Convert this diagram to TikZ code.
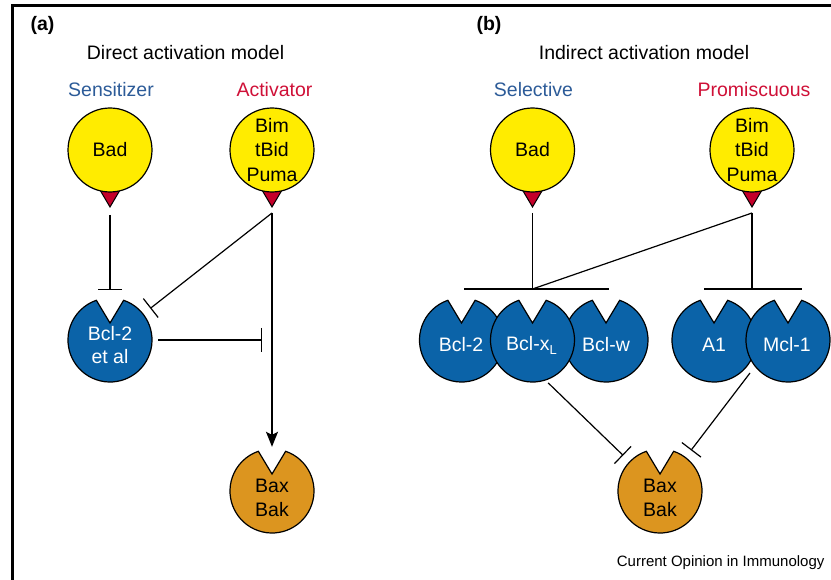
\documentclass[tikz,border=0pt]{standalone}
\usepackage{fontspec}
\setmainfont{Liberation Sans}
\usetikzlibrary{arrows.meta,calc}
\pgfdeclarelayer{background}
\pgfsetlayers{background,main}

\definecolor{ligandyellow}{HTML}{FFEC00}
\definecolor{tipred}{HTML}{C4002A}
\definecolor{pocketblue}{HTML}{0B63A8}
\definecolor{poreorange}{HTML}{DC951F}
\definecolor{headblue}{HTML}{2C5B98}
\definecolor{headred}{HTML}{CF1037}

\tikzset{
  outline/.style={draw=black, line width=1.2pt},
  ligand/.style={circle, outline, fill=ligandyellow, minimum size=84pt,
    inner sep=0pt, align=center, font=\fontsize{19.5}{24.5}\selectfont},
  pocket/.style={circle, minimum size=82pt, inner sep=0pt},
  protein/.style={align=center, font=\fontsize{19.5}{23.5}\selectfont},
  heading/.style={anchor=base, font=\fontsize{19.5}{23}\selectfont},
  panel/.style={anchor=base west, font=\bfseries\fontsize{19.5}{23}\selectfont},
  link/.style={line width=1.2pt},
  blocks/.style={link, -{Bar[width=24pt]}},
  activates/.style={link, -{Stealth[length=15pt, width=12pt, inset=3pt]}},
}

% pocket-shaped protein: a circle with a V-shaped notch cut into its top
\newcommand\pocketshape[3]{% name, centre, fill colour
  \node[pocket] (#1) at (#2) {};
  \draw[outline, fill=#3] ($(#1)+(71:42)$) arc[start angle=71, end angle=-251, radius=42]
    -- ($(#1)+(0,17)$) -- cycle;
}

% BH3-only protein: yellow ball with a red pointer underneath
\newcommand\ligandball[3]{% name, centre, text
  \node[ligand] (#1) at (#2) {#3};
  \coordinate (#1-tip) at ($(#1)+(0,-57)$);
  \coordinate (#1-fork) at ($(#1-tip)+(0,-6)$);
  \begin{pgfonlayer}{background}
    \draw[outline, line width=1pt, fill=tipred] ($(#1)+(-13,-35)$) -- (#1-tip) -- ($(#1)+(13,-35)$) -- cycle;
  \end{pgfonlayer}
}

\begin{document}
\begin{tikzpicture}[x=1pt, y=1pt]
\useasboundingbox (0,0) rectangle (831,-580);

% frame
\draw[line width=2.8pt] (12.2,-581) -- (12.2,-5.5) -- (832,-5.5);

% ---------- (a) direct activation ----------
\node[panel] (paneltaga) at (27,-31) {(a)};
\node[heading] (titlea) at (185.5,-60) {Direct activation model};
\node[heading, text=headblue] (senslabel) at (111,-97) {Sensitizer};
\node[heading, text=headred] (actlabel) at (274.5,-97) {Activator};

\ligandball{bada}{110,-150}{Bad}
\ligandball{acta}{272,-150}{Bim\\tBid\\Puma}

\pocketshape{bcl2a}{110,-340}{pocketblue}
\pocketshape{baxa}{272,-491}{poreorange}
\node[protein, text=white] (bcl2a-t) at (110,-345) {Bcl-2\\et al};
\node[protein] (baxa-t) at (272,-498) {Bax\\Bak};

\coordinate (acta-mid) at (acta-fork |- bcl2a);
\draw[blocks, shorten <=8pt, shorten >=9pt] (bada-tip) -- (bcl2a);
\draw[blocks, shorten >=10pt] (acta-fork) -- (bcl2a);
\draw[activates, shorten >=3pt] (acta-fork) -- (baxa);
\draw[blocks, shorten <=7pt, shorten >=10pt] (bcl2a) -- (acta-mid);

% ---------- (b) indirect activation ----------
\node[panel] (paneltagb) at (473,-31) {(b)};
\node[heading] (titleb) at (644,-60) {Indirect activation model};
\node[heading, text=headblue] (sellabel) at (533.5,-97) {Selective};
\node[heading, text=headred] (promlabel) at (754,-97) {Promiscuous};

\ligandball{badb}{532.5,-150}{Bad}
\ligandball{promb}{752,-150}{Bim\\tBid\\Puma}

\pocketshape{bcl2b}{461.5,-340}{pocketblue}
\pocketshape{bclw}{606,-340}{pocketblue}
\pocketshape{bclxl}{532.5,-340}{pocketblue}
\pocketshape{aone}{714,-340}{pocketblue}
\pocketshape{mclone}{788,-340}{pocketblue}
\pocketshape{baxb}{660,-491}{poreorange}

\node[protein, text=white] (bcl2b-t) at (461,-345) {Bcl-2};
\node[protein, text=white] (bclxl-t) at (531.5,-345) {Bcl-x\raisebox{-4pt}{\fontsize{13}{13}\selectfont L}};
\node[protein, text=white] (bclw-t) at (606,-345) {Bcl-w};
\node[protein, text=white] (aone-t) at (714,-345) {A1};
\node[protein, text=white] (mclone-t) at (787,-345) {Mcl-1};
\node[protein] (baxb-t) at (660,-498) {Bax\\Bak};

% binding bars over the two groups
\coordinate (selbar) at ($(bclxl)+(0,51)$);
\coordinate (selbar-l) at ($(selbar)+(-68.5,0)$);
\coordinate (selbar-r) at ($(selbar)+(76.5,0)$);
\coordinate (probar) at (promb-fork |- selbar);
\coordinate (probar-l) at ($(probar)+(-48,0)$);
\coordinate (probar-r) at ($(probar)+(50,0)$);
\coordinate (pair-join) at ($(aone)+(36,-33)$);

\draw[link, shorten <=6pt] (badb-tip) -- (selbar);
\draw[link] (promb-fork) -- (selbar);
\draw[link] (promb-fork) -- (probar);
\draw[link] (selbar-l) -- (selbar-r);
\draw[link] (probar-l) -- (probar-r);

\draw[blocks, shorten <=5pt, shorten >=10pt] (bclxl.-73) -- (baxb);
\draw[blocks, shorten >=10pt] (pair-join) -- (baxb);

\node[anchor=base east, font=\fontsize{15}{15}\selectfont] (credit) at (828,-566) {Current Opinion in Immunology};
\end{tikzpicture}
\end{document}
